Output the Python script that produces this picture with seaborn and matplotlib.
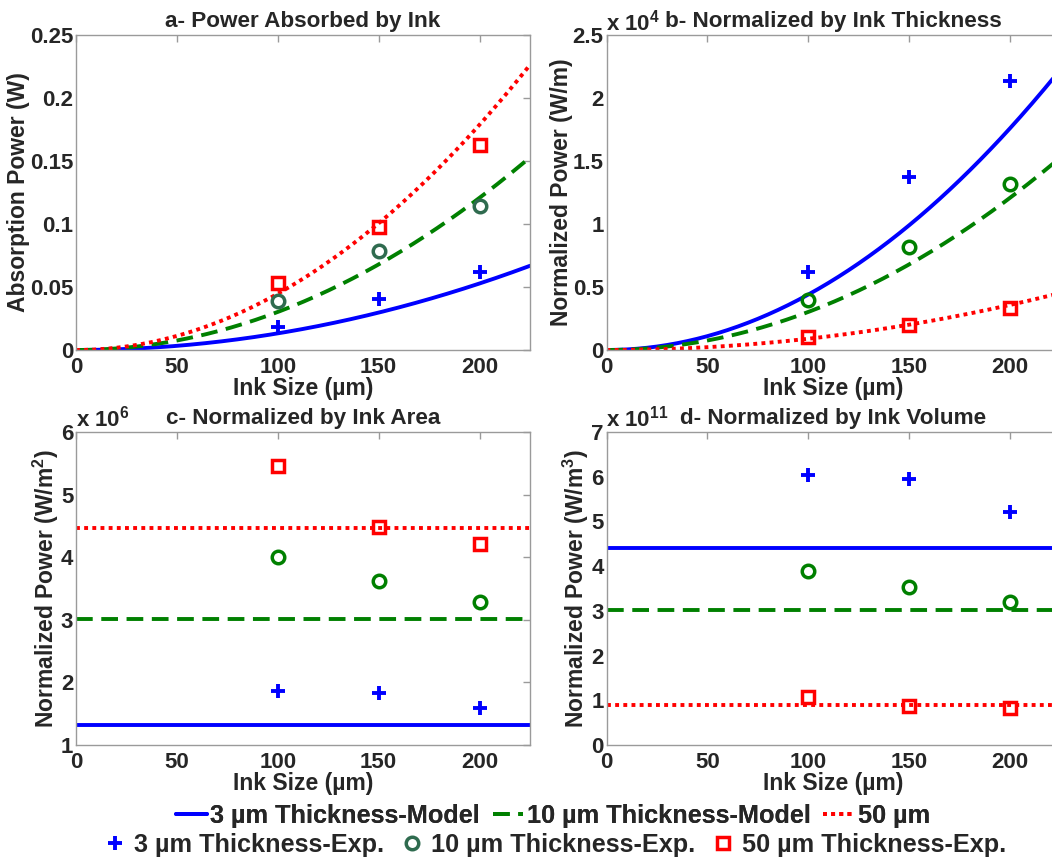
import numpy as np
import matplotlib
matplotlib.use("Agg")
import matplotlib.pyplot as plt
from matplotlib.ticker import FuncFormatter, FixedLocator
import seaborn as sns

sns.set_theme(style="white")
plt.rcParams["font.family"] = ["Liberation Sans", "DejaVu Sans"]
plt.rcParams["font.weight"] = "bold"
plt.rcParams["mathtext.fontset"] = "custom"
plt.rcParams["mathtext.rm"] = "Liberation Sans:bold"
plt.rcParams["mathtext.bf"] = "Liberation Sans:bold"
plt.rcParams["mathtext.it"] = "Liberation Sans:bold:italic"
plt.rcParams["mathtext.default"] = "rm"

# ---- data -------------------------------------------------------------
ink_size = [100, 150, 200]                 # µm
thickness = [3, 10, 50]                    # µm
# model: absorbed power per unit ink area (W/m^2), constant vs ink size
model_per_area = [1.32e6, 3.02e6, 4.47e6]

# experiments, absorbed power (W)
exp_power_3 = [0.0185, 0.0402, 0.0622]
exp_power_10 = [0.0389, 0.0788, 0.1143]
exp_power_50 = [0.0529, 0.0979, 0.1627]
# experiments, normalized by thickness (W/m)
exp_thick_3 = [0.617e4, 1.37e4, 2.136e4]
exp_thick_10 = [0.40e4, 0.816e4, 1.316e4]
exp_thick_50 = [0.106e4, 0.20e4, 0.332e4]
# experiments, normalized by area (W/m^2)
exp_area_3 = [1.86e6, 1.83e6, 1.59e6]
exp_area_10 = [4.00e6, 3.62e6, 3.28e6]
exp_area_50 = [5.46e6, 4.48e6, 4.21e6]
# experiments, normalized by volume (W/m^3)
exp_vol_3 = [6.04e11, 5.95e11, 5.21e11]
exp_vol_10 = [3.90e11, 3.53e11, 3.19e11]
exp_vol_50 = [1.08e11, 0.88e11, 0.82e11]

x_ticks = [0, 50, 100, 150, 200]
titles = ["a- Power Absorbed by Ink", "b- Normalized by Ink Thickness",
          "c- Normalized by Ink Area", "d- Normalized by Ink Volume"]
ylabels = ["Absorption Power (W)", "Normalized Power (W/m)",
           "Normalized Power (W/m$^{2}$)", "Normalized Power (W/m$^{3}$)"]
y_ticks = [[0, 0.05, 0.1, 0.15, 0.2, 0.25], [0, 0.5, 1, 1.5, 2, 2.5],
           [1, 2, 3, 4, 5, 6], [0, 1, 2, 3, 4, 5, 6, 7]]
y_scale_exp = [0, 4, 6, 11]
legend_row1 = ["3 µm Thickness-Model", "10 µm Thickness-Model", "50 µm"]
legend_row2 = ["3 µm Thickness-Exp.", "10 µm Thickness-Exp.", "50 µm Thickness-Exp."]

# ---- styling -----------------------------------------------------------
BLUE, GREEN, RED, SLATE = "#0000ff", "#008000", "#ff0000", "#2f6b4f"
line_styles = [dict(color=BLUE, linestyle="-", linewidth=2.8),
               dict(color=GREEN, linestyle=(0, (4.3, 2.2)), linewidth=2.8),
               dict(color=RED, linestyle=(0, (1, 1.1)), linewidth=2.8)]
marker_styles = [dict(marker="+", markersize=10, markeredgewidth=2.8,
                      color=BLUE, markeredgecolor=BLUE),
                 dict(marker="o", markersize=9, markeredgewidth=2.5,
                      color=GREEN, markeredgecolor=GREEN, markerfacecolor="none"),
                 dict(marker="s", markersize=8, markeredgewidth=2.5,
                      color=RED, markeredgecolor=RED, markerfacecolor="none")]
FS_TICK, FS_LABEL, FS_TITLE = 16, 16.5, 16.2

FIG_W, FIG_H = 1052, 860
fig = plt.figure(figsize=(FIG_W / 100, FIG_H / 100), dpi=100)


def frac(left, top, right, bottom):
    return [left / FIG_W, 1 - bottom / FIG_H, (right - left) / FIG_W, (bottom - top) / FIG_H]


axes = [fig.add_axes(frac(76, 35, 530, 350)),
        fig.add_axes(frac(606.5, 35, 1060.5, 350)),
        fig.add_axes(frac(76, 432, 530, 745)),
        fig.add_axes(frac(606.5, 432, 1060.5, 745))]

x_model = np.linspace(0, 225, 226)
t_m = np.array(thickness) * 1e-6

exp_sets = [[exp_power_3, exp_power_10, exp_power_50],
            [exp_thick_3, exp_thick_10, exp_thick_50],
            [exp_area_3, exp_area_10, exp_area_50],
            [exp_vol_3, exp_vol_10, exp_vol_50]]

for k, ax in enumerate(axes):
    for i in range(3):
        q = model_per_area[i]
        area = (x_model * 1e-6) ** 2
        if k == 0:
            y = q * area
        elif k == 1:
            y = q * area / t_m[i]
        elif k == 2:
            y = np.full_like(x_model, q)
        else:
            y = np.full_like(x_model, q / t_m[i])
        sns.lineplot(x=x_model, y=y, ax=ax, **line_styles[i])
    for i in range(3):
        st = dict(marker_styles[i])
        if k == 0 and i == 1:
            st["color"] = SLATE
            st["markeredgecolor"] = SLATE
        sns.lineplot(x=ink_size, y=exp_sets[k][i], ax=ax, linestyle="none", **st)

    scale = 10.0 ** y_scale_exp[k]
    yt = y_ticks[k]
    ax.set_xlim(0, 225)
    ax.set_ylim(yt[0] * scale, yt[-1] * scale)
    ax.xaxis.set_major_locator(FixedLocator(x_ticks))
    ax.yaxis.set_major_locator(FixedLocator([v * scale for v in yt]))
    ax.yaxis.set_major_formatter(FuncFormatter(lambda v, p, s=scale: f"{v / s:g}"))
    ax.xaxis.set_major_formatter(FuncFormatter(lambda v, p: f"{v:g}"))
    ax.tick_params(direction="in", top=True, right=True, length=5, width=1,
                   color="#9a9a9a", labelsize=FS_TICK)
    ax.tick_params(axis="x", pad=5)
    ax.tick_params(axis="y", pad=2)
    for sp in ax.spines.values():
        sp.set_color("#9a9a9a")
        sp.set_linewidth(1)
    ax.set_title(titles[k], fontsize=FS_TITLE, fontweight="bold", pad=6)
    ax.set_xlabel("Ink Size (µm)", fontsize=FS_LABEL, fontweight="bold", labelpad=-1)
    ax.set_ylabel(ylabels[k], fontsize=FS_LABEL, fontweight="bold", labelpad=0)
    if y_scale_exp[k]:
        ax.text(0.0, 1.0, f"x 10$^{{{y_scale_exp[k]}}}$", transform=ax.transAxes,
                ha="left", va="bottom", fontsize=FS_TICK, fontweight="bold")
    ax.grid(False)
    ax.set_facecolor("white")

handles = axes[0].lines
leg_font = dict(family=["Liberation Sans"], size=18.2, weight="bold")
leg_kw = dict(loc="center", ncol=3, frameon=False, prop=leg_font,
              handlelength=1.2, handletextpad=0.15, columnspacing=0.5,
              borderpad=0, borderaxespad=0)
leg1 = fig.legend(handles[:3], legend_row1,
                  bbox_to_anchor=(553 / FIG_W, 1 - 816 / FIG_H), **leg_kw)
leg2 = fig.legend(handles[3:6], legend_row2,
                  bbox_to_anchor=(553 / FIG_W, 1 - 845 / FIG_H), **leg_kw)
fig.add_artist(leg1)

fig.savefig("out.png", dpi=100, facecolor="white")
